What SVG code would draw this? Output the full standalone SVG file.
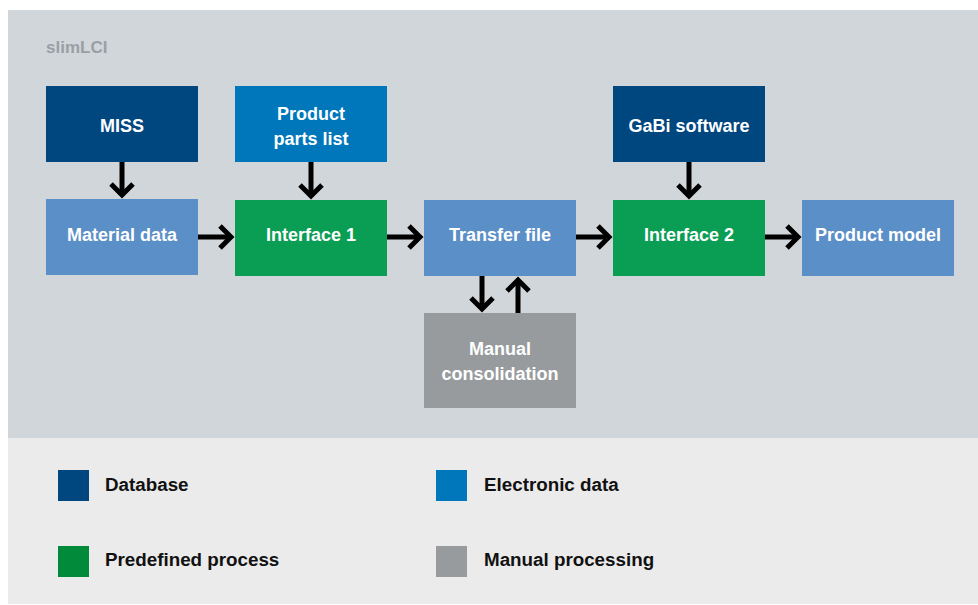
<svg xmlns="http://www.w3.org/2000/svg" width="978" height="605" viewBox="0 0 978 605">
<style>
.lbl{font-family:"Liberation Sans",Arial,sans-serif;font-weight:bold;font-size:18px;fill:#ffffff;text-anchor:middle}
.leg{font-family:"Liberation Sans",Arial,sans-serif;font-weight:bold;font-size:18.8px;fill:#111111}
.db{fill:#00467f}.ed{fill:#0077bb}.dt{fill:#5b8fc7}.pp{fill:#0a9e55}.mp{fill:#979b9e}
.cn{stroke:#000;stroke-width:5;fill:none;marker-end:url(#ah)}
</style>
<defs>
<marker id="ah" markerUnits="userSpaceOnUse" markerWidth="30" markerHeight="30" viewBox="-15 -15 30 30" refX="0" refY="0" orient="auto">
<path d="M-11,-11 L0,0 L-11,11" stroke="#000" stroke-width="5" fill="none" stroke-linejoin="miter"/>
</marker>
</defs>
<rect x="0" y="0" width="978" height="605" fill="#ffffff"/>
<rect x="8" y="10" width="970" height="428" fill="#d1d6da"/>
<rect x="8" y="438" width="970" height="166" fill="#ebebeb"/>
<text x="46" y="53" style="font-family:'Liberation Sans',Arial,sans-serif;font-weight:bold;font-size:17px;fill:#9a9fa4">slimLCI</text>
<g id="miss"><rect class="db" x="46" y="86" width="152" height="76"/><text class="lbl" x="122" y="132">MISS</text></g>
<g id="parts"><rect class="ed" x="235" y="86" width="152" height="76"/><text class="lbl" x="311" y="120">Product</text><text class="lbl" x="311" y="145">parts list</text></g>
<g id="gabi"><rect class="db" x="613" y="86" width="152" height="76"/><text class="lbl" x="689" y="132">GaBi software</text></g>
<g id="material"><rect class="dt" x="46" y="199" width="152" height="76"/><text class="lbl" x="122" y="241">Material data</text></g>
<g id="if1"><rect class="pp" x="235" y="200" width="152" height="76"/><text class="lbl" x="311" y="241">Interface 1</text></g>
<g id="transfer"><rect class="dt" x="424" y="200" width="152" height="76"/><text class="lbl" x="500" y="241">Transfer file</text></g>
<g id="if2"><rect class="pp" x="613" y="200" width="152" height="76"/><text class="lbl" x="689" y="241">Interface 2</text></g>
<g id="model"><rect class="dt" x="802" y="200" width="152" height="76"/><text class="lbl" x="878" y="241">Product model</text></g>
<g id="manual"><rect class="mp" x="424" y="313" width="152" height="95"/><text class="lbl" x="500" y="355">Manual</text><text class="lbl" x="500" y="380">consolidation</text></g>
<g id="connectors">
<path class="cn" d="M122,162 L122,195"/>
<path class="cn" d="M311,162 L311,196"/>
<path class="cn" d="M689,162 L689,196"/>
<path class="cn" d="M198,237 L231,237"/>
<path class="cn" d="M387,237 L420,237"/>
<path class="cn" d="M576,237 L609,237"/>
<path class="cn" d="M765,237 L798,237"/>
<path class="cn" d="M482,276 L482,309"/>
<path class="cn" d="M518,313 L518,280"/>
</g>
<g id="legend">
<g id="leg-db"><rect class="db" x="58" y="470" width="31" height="31"/><text class="leg" x="105" y="491">Database</text></g>
<g id="leg-ed"><rect class="ed" x="436" y="470" width="31" height="31"/><text class="leg" x="484" y="491">Electronic data</text></g>
<g id="leg-pp"><rect x="58" y="546" width="31" height="31" fill="#008a3a"/><text class="leg" x="105" y="566">Predefined process</text></g>
<g id="leg-mp"><rect class="mp" x="436" y="546" width="31" height="31"/><text class="leg" x="484" y="566">Manual processing</text></g>
</g>
</svg>
